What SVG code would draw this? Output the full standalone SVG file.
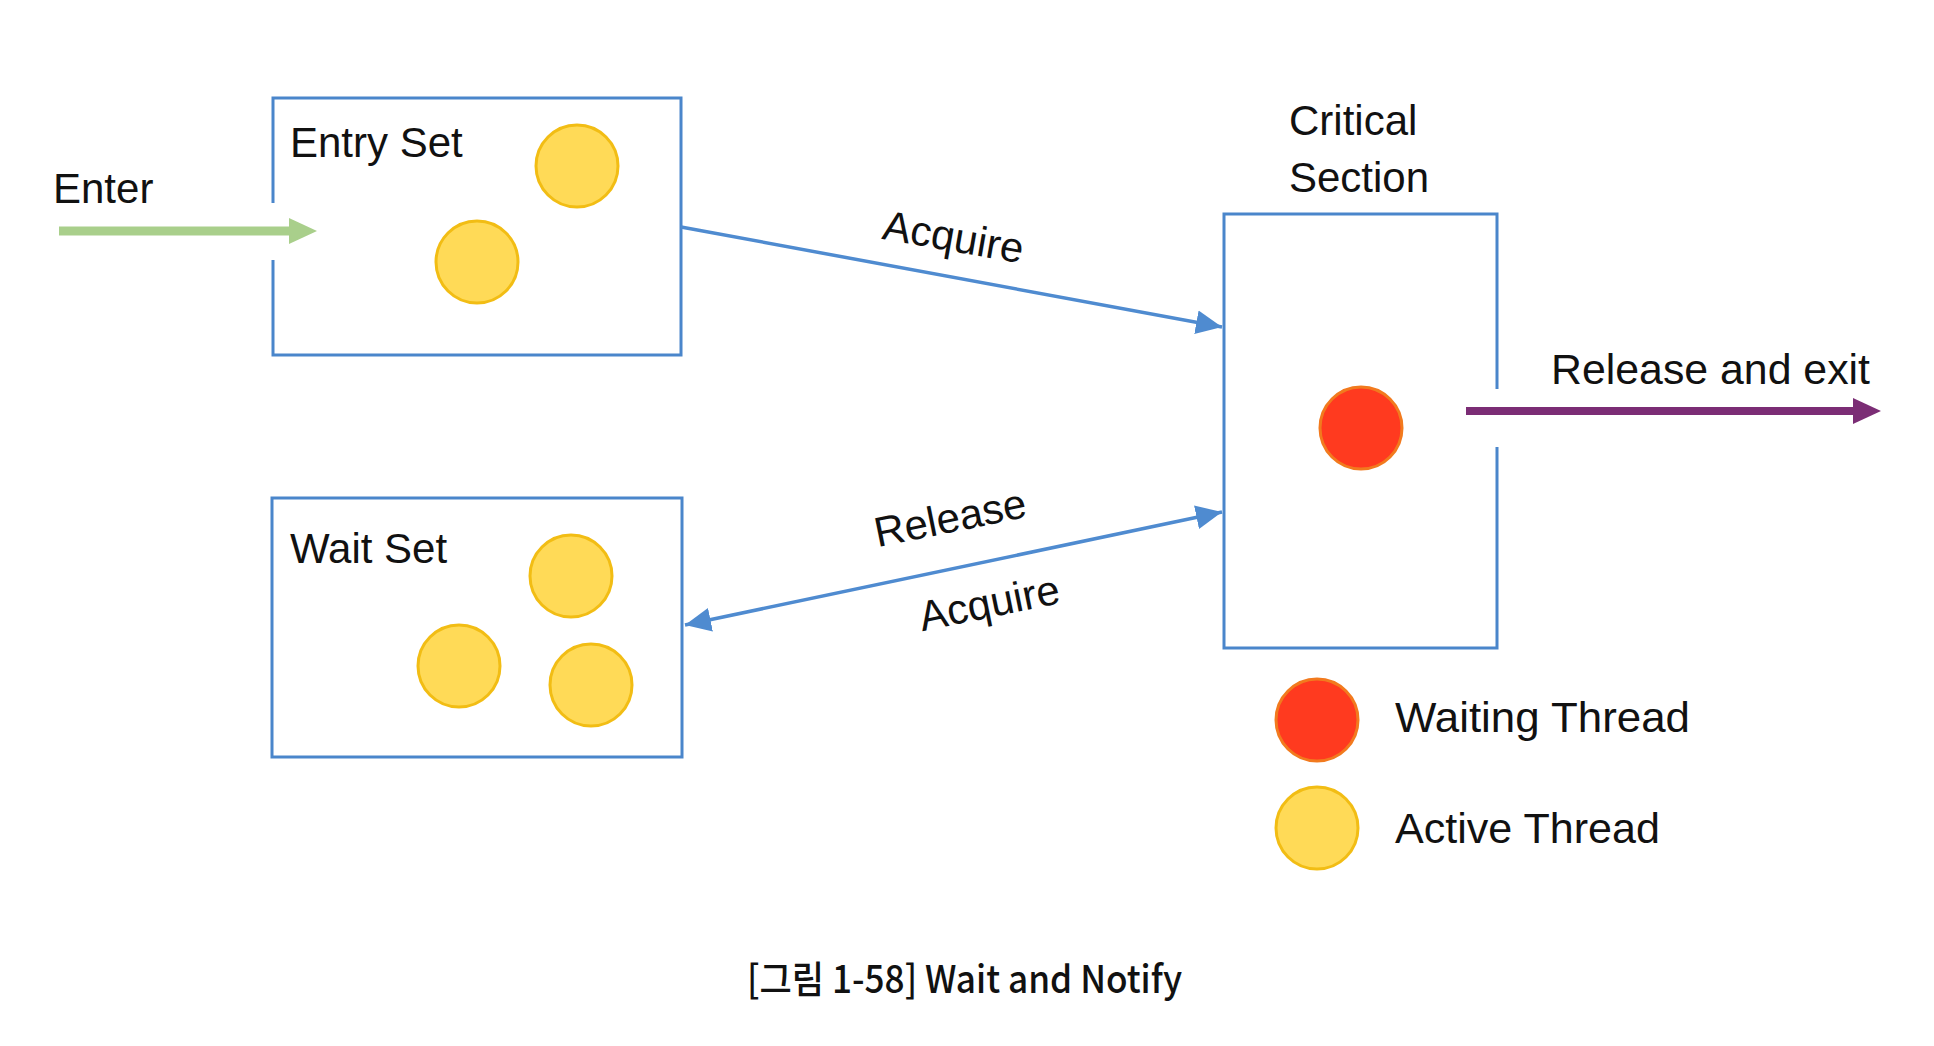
<svg xmlns="http://www.w3.org/2000/svg" width="1934" height="1046" viewBox="0 0 1934 1046">
<defs>
<style>
.box{fill:none;stroke:#4A86CB;stroke-width:3}
.lbl{font-family:"Liberation Sans",Arial,sans-serif;font-size:42px;fill:#111}
.act{fill:#FFDA57;stroke:#F2BD14;stroke-width:3}
.wait{fill:#FF3A1F;stroke:#F27A1E;stroke-width:3}
.blue{stroke:#4F8BD0;stroke-width:3.5;fill:none}
</style>
<marker id="bh" markerUnits="userSpaceOnUse" markerWidth="28" markerHeight="26" refX="26" refY="12" orient="auto-start-reverse" viewBox="0 0 28 24">
<path d="M0,0 L26,12 L0,24 Z" fill="#4F8BD0"/>
</marker>
</defs>
<rect width="1934" height="1046" fill="#fff"/>
<g id="entry-set">
<path class="box" d="M273,203 V98 H681 V355 H273 V260"/>
<text class="lbl" x="290" y="157">Entry Set</text>
<circle class="act" cx="577" cy="166" r="41"/>
<circle class="act" cx="477" cy="262" r="41"/>
</g>
<g id="wait-set">
<rect class="box" x="272" y="498" width="410" height="259"/>
<text class="lbl" x="290" y="563">Wait Set</text>
<circle class="act" cx="571" cy="576" r="41"/>
<circle class="act" cx="459" cy="666" r="41"/>
<circle class="act" cx="591" cy="685" r="41"/>
</g>
<g id="critical-section">
<path class="box" d="M1497,389 V214 H1224 V648 H1497 V447"/>
<text class="lbl" x="1289" y="135">Critical</text>
<text class="lbl" x="1289" y="192">Section</text>
<circle class="wait" cx="1361" cy="428" r="41"/>
</g>
<g id="enter">
<text class="lbl" x="53" y="203">Enter</text>
</g>
<g id="legend">
<circle class="wait" cx="1317" cy="720" r="41"/>
<text class="lbl" x="1395" y="732" textLength="295" lengthAdjust="spacingAndGlyphs">Waiting Thread</text>
<circle class="act" cx="1317" cy="828" r="41"/>
<text class="lbl" x="1395" y="843" textLength="265" lengthAdjust="spacingAndGlyphs">Active Thread</text>
</g>
<g id="connectors">
<line x1="59" y1="231" x2="292" y2="231" stroke="#A9CF8B" stroke-width="9"/>
<path d="M289,218 L317,231 L289,244 Z" fill="#A9CF8B"/>
<line class="blue" x1="681" y1="227" x2="1222" y2="327" marker-end="url(#bh)"/>
<line class="blue" x1="685" y1="625" x2="1222" y2="512" marker-start="url(#bh)" marker-end="url(#bh)"/>
<line x1="1466" y1="411" x2="1856" y2="411" stroke="#7B2D75" stroke-width="8"/>
<path d="M1853,398 L1881,411 L1853,424 Z" fill="#7B2D75"/>
<text class="lbl" x="1551" y="384" textLength="319" lengthAdjust="spacingAndGlyphs">Release and exit</text>
<text class="lbl" text-anchor="middle" transform="translate(951,251) rotate(10)">Acquire</text>
<text class="lbl" text-anchor="middle" transform="translate(953,532) rotate(-11.5)">Release</text>
<text class="lbl" text-anchor="middle" transform="translate(992,617) rotate(-11.5)">Acquire</text>
</g>
<text x="747" y="993" font-family="'Noto Sans CJK KR','Noto Sans',sans-serif" font-size="38" font-weight="500" fill="#111" textLength="435" lengthAdjust="spacingAndGlyphs">[그림 1-58] Wait and Notify</text>
</svg>
